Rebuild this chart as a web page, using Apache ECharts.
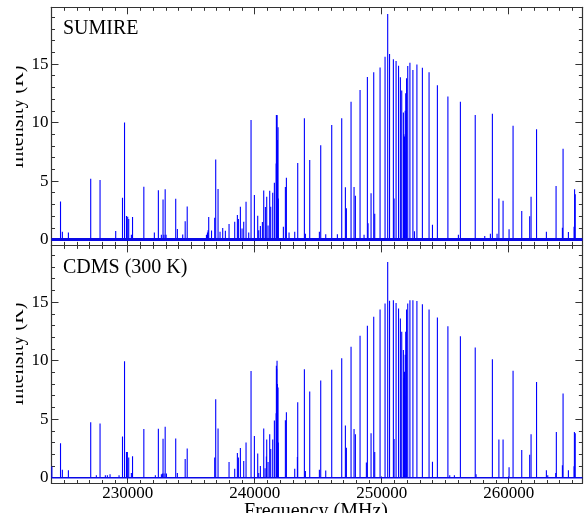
<!DOCTYPE html>
<html>
<head>
<meta charset="utf-8">
<script src="https://cdn.jsdelivr.net/npm/echarts@6/dist/echarts.min.js"></script>
<style>html,body{margin:0;padding:0;background:#fff}#c{width:584px;height:513px}</style>
</head>
<body>
<div id="c"></div>
<script>
// ---- data (frequency in MHz, intensity in K) ----
const sumireFreq = [224710,224855,225330,227087,227822,229055,229590,229750,229905,230000,230080,230290,230380,231270,232099,232414,232650,232782,232850,232950,233020,233780,233910,234330,234525,234685,236200,236280,236330,236378,236600,236850,236929,237113,237270,237480,237690,237979,238425,238635,238714,238871,239002,239134,239317,239528,239711,239974,240236,240315,240446,240604,240709,240840,240945,241050,241181,241260,241417,241549,241690,241706,241730,241758,241790,241837,241860,242257,242415,242494,242703,243150,243386,243911,243990,244331,245092,245197,245591,246063,246509,246850,247139,247218,247585,247821,247926,248294,248609,248871,248924,249160,249370,249449,249869,250262,250470,250615,250918,250971,251130,251325,251470,251575,251706,251740,251790,251820,251850,251890,251955,252048,252220,252455,252580,252770,253202,253727,253995,254383,255210,256037,256194,257362,258111,258556,258713,259081,259225,259554,260026,260341,261024,261650,261758,262190,262965,263727,264226,264278,264698,265144,265185,265236];
const sumireInt  = [3.25,0.67,0.6,5.2,5.1,0.73,3.57,10.0,2.02,1.95,1.75,0.4,1.93,4.52,0.6,4.22,0.4,3.43,0.4,4.29,0.4,3.48,0.9,0.44,1.56,2.82,0.4,0.6,0.8,1.92,0.78,1.87,6.85,4.32,0.67,0.98,0.75,1.32,1.52,2.1,1.75,2.8,0.95,1.52,3.23,0.6,10.21,3.8,2.04,0.8,1.15,1.5,4.2,2.78,3.66,1.2,4.17,2.8,4.0,4.86,6.5,10.64,10.6,10.64,8.5,9.6,3.5,1.1,4.49,5.28,0.6,0.67,6.54,10.36,0.5,6.8,0.67,8.05,0.45,9.79,0.45,10.36,4.46,2.67,11.78,4.49,3.75,12.78,0.4,13.89,1.4,3.95,14.29,2.2,14.7,15.63,19.27,15.85,15.4,3.5,15.26,14.85,13.88,12.74,10.85,9.0,8.8,7.5,11.0,12.5,13.78,14.83,15.11,14.49,0.7,14.97,14.69,14.29,1.27,13.18,12.22,0.4,11.78,10.64,0.3,0.5,10.75,0.5,3.5,3.32,0.88,9.73,2.45,2.0,3.66,9.42,0.67,4.58,1.0,7.76,0.64,1.1,4.3,3.88];

const cdmsFreq = [224030,224710,224855,225330,227087,227532,227822,228241,228399,228609,229318,229590,229750,229905,229974,230080,230289,230380,231270,232178,232414,232651,232730,232782,232860,232950,233050,233780,233910,234525,234685,236850,236929,237113,237979,238425,238635,238714,238871,239134,239317,239711,239974,240236,240315,240446,240709,240814,240919,240945,241050,241181,241260,241417,241549,241690,241706,241730,241758,241790,241837,241860,242415,242494,243150,243360,243386,243911,243990,244331,245092,245197,245591,246063,246850,247139,247218,247585,247821,247926,248294,248792,248871,249160,249370,249449,249869,250262,250470,250615,250918,250971,251130,251325,251470,251575,251706,251740,251790,251820,251850,251890,251955,252048,252220,252455,252770,253202,253727,253995,254383,255210,255354,255721,256194,257362,257428,258713,259225,259554,260026,260341,261024,261650,261758,262190,262965,263071,263700,263749,264226,264278,264698,265144,265171,265236];
const cdmsInt  = [0.95,2.95,0.68,0.63,4.74,0.2,4.63,0.2,0.2,0.3,0.2,3.52,9.94,2.19,2.19,1.73,0.4,1.82,4.15,0.2,4.18,0.3,0.35,3.32,0.35,4.35,0.35,3.35,0.4,1.6,2.5,1.73,6.7,4.2,1.34,0.77,2.1,1.73,2.53,1.42,3.0,9.12,3.55,2.07,0.4,1.0,4.2,0.8,1.8,3.27,1.34,3.7,2.44,3.27,4.89,5.5,9.57,9.3,10.0,8.0,7.7,3.0,4.9,5.6,0.77,1.76,6.45,9.26,0.57,7.36,0.68,8.3,0.62,9.23,10.2,4.46,2.56,11.19,4.15,3.7,12.13,1.3,12.98,3.8,13.75,2.19,14.38,14.88,18.44,15.11,15.16,3.3,14.93,14.45,13.6,12.46,10.9,8.5,9.05,7.0,10.5,12.46,14.37,14.88,15.16,15.16,15.1,14.82,14.37,1.36,13.68,12.94,0.2,0.2,12.09,11.12,0.3,10.13,3.27,3.27,0.88,9.14,2.36,1.95,3.7,8.17,0.63,0.2,0.4,3.9,1.05,7.2,0.63,0.97,3.9,3.8];

const panelTitles = ['SUMIRE', 'CDMS (300 K)'];
const xRange = [224000, 265800];
const yRange = [-0.5, 19.85];
const xMajorTicks = [230000, 240000, 250000, 260000];
const yMajorTicks = [0, 5, 10, 15];
const xTitle = 'Frequency (MHz)';
const yTitle = 'Intensity (K)';

// ---- build ----
const FONT = 'Liberation Serif';
const AX = '#333';
const xMinorTicks = [];
for (let v = Math.ceil(xRange[0] / 1000) * 1000; v <= xRange[1]; v += 1000) xMinorTicks.push(v);
const yMinorTicks = [];
for (let v = Math.ceil(yRange[0]); v <= yRange[1]; v += 1) yMinorTicks.push(v);

const grids = [
  { left: 51.5, top: 7.3, width: 530.9, height: 238.1 },
  { left: 51.5, top: 245.4, width: 530.9, height: 238.1 }
];

const plain = v => String(Math.round(v));

const xAxes = [], yAxes = [];
function addAxes(g) {
  const base = { gridIndex: g, type: 'value', min: xRange[0], max: xRange[1], splitLine: { show: false } };
  xAxes.push(Object.assign({}, base, {
    position: 'bottom',
    axisLine: { show: true, onZero: false, lineStyle: { color: AX, width: 1.2 } },
    axisTick: { show: true, inside: true, length: 7, customValues: xMajorTicks, lineStyle: { color: AX } },
    axisLabel: { show: g === 1, customValues: xMajorTicks, formatter: plain, margin: 2, color: '#000', fontFamily: FONT, fontSize: 17 }
  }));
  xAxes.push(Object.assign({}, base, {
    position: 'bottom',
    axisLine: { show: false, onZero: false },
    axisTick: { show: true, inside: true, length: 3.5, customValues: xMinorTicks, lineStyle: { color: AX } },
    axisLabel: { show: false }
  }));
  xAxes.push(Object.assign({}, base, {
    position: 'top',
    axisLine: { show: true, onZero: false, lineStyle: { color: AX, width: 1.2 } },
    axisTick: { show: true, inside: true, length: 7, customValues: xMajorTicks, lineStyle: { color: AX } },
    axisLabel: { show: false }
  }));
  xAxes.push(Object.assign({}, base, {
    position: 'top',
    axisLine: { show: false, onZero: false },
    axisTick: { show: true, inside: true, length: 3.5, customValues: xMinorTicks, lineStyle: { color: AX } },
    axisLabel: { show: false }
  }));
  const ybase = { gridIndex: g, type: 'value', min: yRange[0], max: yRange[1], splitLine: { show: false } };
  yAxes.push(Object.assign({}, ybase, {
    position: 'left',
    axisLine: { show: true, onZero: false, lineStyle: { color: AX, width: 1.2 } },
    axisTick: { show: true, inside: true, length: 7, customValues: yMajorTicks, lineStyle: { color: AX } },
    axisLabel: { show: true, customValues: yMajorTicks, formatter: plain, margin: 3, color: '#000', fontFamily: FONT, fontSize: 17 }
  }));
  yAxes.push(Object.assign({}, ybase, {
    position: 'left',
    axisLine: { show: false, onZero: false },
    axisTick: { show: true, inside: true, length: 3.5, customValues: yMinorTicks, lineStyle: { color: AX } },
    axisLabel: { show: false }
  }));
  yAxes.push(Object.assign({}, ybase, {
    position: 'right',
    axisLine: { show: true, onZero: false, lineStyle: { color: AX, width: 1.2 } },
    axisTick: { show: true, inside: true, length: 7, customValues: yMajorTicks, lineStyle: { color: AX } },
    axisLabel: { show: false }
  }));
  yAxes.push(Object.assign({}, ybase, {
    position: 'right',
    axisLine: { show: false, onZero: false },
    axisTick: { show: true, inside: true, length: 3.5, customValues: yMinorTicks, lineStyle: { color: AX } },
    axisLabel: { show: false }
  }));
}
addAxes(0); addAxes(1);

function stemRender(params, api) {
  const f = api.value(0), h = api.value(1);
  const p0 = api.coord([f, 0]);
  const p1 = api.coord([f, h]);
  return {
    type: 'line',
    shape: { x1: p0[0], y1: p0[1], x2: p1[0], y2: p1[1] },
    style: { stroke: '#0000ff', lineWidth: 1.1 }
  };
}

const panels = [
  { freq: sumireFreq, inten: sumireInt, baseWidth: 3 },
  { freq: cdmsFreq, inten: cdmsInt, baseWidth: 1.5 }
];
const series = [];
panels.forEach((p, g) => {
  series.push({
    type: 'line',
    xAxisIndex: g * 4, yAxisIndex: g * 4,
    data: [[xRange[0], 0], [xRange[1], 0]],
    symbol: 'none', silent: true, z: 3,
    lineStyle: { color: '#0a0ae6', width: p.baseWidth },
    animation: false
  });
  series.push({
    type: 'custom',
    xAxisIndex: g * 4, yAxisIndex: g * 4,
    data: p.freq.map((f, i) => [f, p.inten[i]]),
    renderItem: stemRender,
    clip: true, silent: true, z: 2,
    animation: false
  });
});

const graphic = [
  { type: 'text', left: 63, top: 19, style: { text: panelTitles[0], font: '20px "' + FONT + '"', fill: '#000' } },
  { type: 'text', left: 63, top: 258, style: { text: panelTitles[1], font: '20px "' + FONT + '"', fill: '#000' } },
  { type: 'text', x: 316, y: 512, style: { text: xTitle, font: '20px "' + FONT + '"', fill: '#000', align: 'center', verticalAlign: 'middle' } },
  { type: 'text', x: 18, y: 117, rotation: Math.PI / 2, style: { text: yTitle, font: '20px "' + FONT + '"', fill: '#000', align: 'center', verticalAlign: 'middle' } },
  { type: 'text', x: 18, y: 354, rotation: Math.PI / 2, style: { text: yTitle, font: '20px "' + FONT + '"', fill: '#000', align: 'center', verticalAlign: 'middle' } },
  { type: 'rect', shape: { x: 0, y: 0, width: 16, height: 513 }, style: { fill: '#fff' }, z: 100 }
];

const chart = echarts.init(document.getElementById('c'), null, { renderer: 'canvas' });
chart.setOption({
  animation: false,
  backgroundColor: '#fff',
  grid: grids,
  xAxis: xAxes,
  yAxis: yAxes,
  series: series,
  graphic: graphic
});
</script>
</body>
</html>
